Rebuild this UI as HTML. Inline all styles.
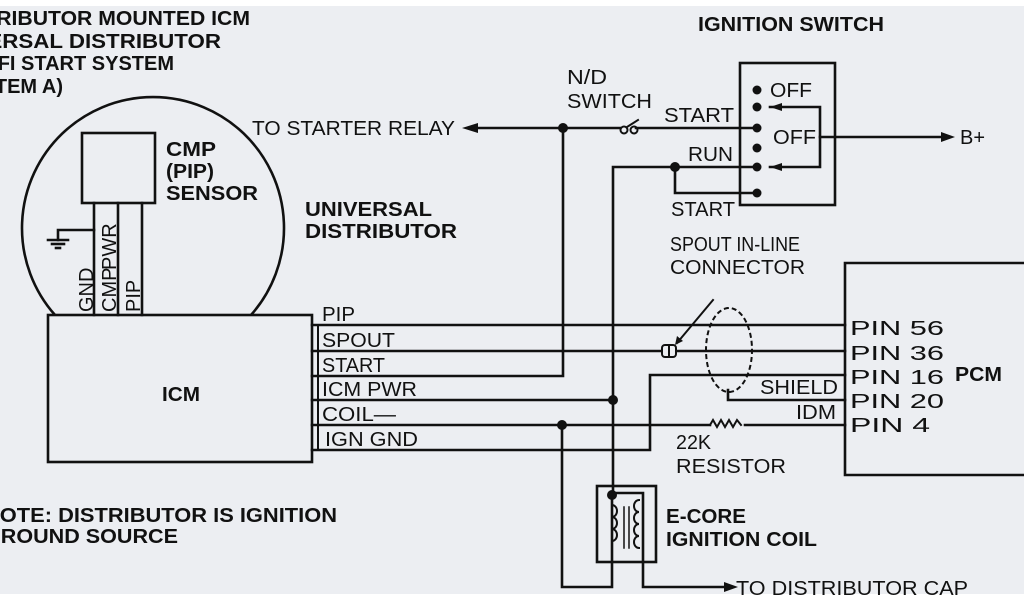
<!DOCTYPE html>
<html><head><style>
html,body{margin:0;padding:0;background:#fff}
svg{display:block}
text{font-family:"Liberation Sans",sans-serif;fill:#111}
.b{font-weight:bold;font-size:20px}
.n{font-size:20px}
</style></head><body>
<svg width="1024" height="600" viewBox="0 0 1024 600" xmlns="http://www.w3.org/2000/svg">
<rect x="0" y="6" width="1024" height="588" fill="#eceef2"/>
<g stroke="#111" stroke-width="2.6" fill="none" stroke-linecap="square">
<path d="M55 315 A131 131 0 1 1 251 315"/>
<rect x="48" y="315" width="264" height="147" fill="#eceef2"/>
<rect x="82" y="133" width="73" height="70" fill="#eceef2"/>
<line x1="94" y1="203" x2="94" y2="315"/>
<line x1="118" y1="203" x2="118" y2="315"/>
<line x1="142" y1="203" x2="142" y2="315"/>
<path d="M94 230 H58 V240"/>
<line x1="48" y1="240" x2="68" y2="240"/>
<line x1="52" y1="244" x2="64" y2="244"/>
<line x1="56" y1="248" x2="60" y2="248"/>
<line x1="312" y1="325" x2="845" y2="325"/>
<line x1="312" y1="351" x2="845" y2="351"/>
<path d="M312 376 H563 V128"/>
<line x1="312" y1="400" x2="613" y2="400"/>
<path d="M312 425 H710"/>
<path d="M745 425 H845"/>
<path d="M710 425 l3 -5 l4 7 l4 -7 l4 7 l4 -7 l4 7 l4 -7 l4 5" stroke-width="2"/>
<path d="M312 450 H650 V375 H845"/>
<line x1="318" y1="325" x2="318" y2="450" stroke-width="2"/>
<path d="M470 128 H620"/>
<path d="M636 128 H757"/>
<circle cx="624" cy="130" r="3.5" stroke-width="2"/>
<circle cx="634" cy="130" r="3.5" stroke-width="2"/>
<line x1="627" y1="127" x2="638" y2="120" stroke-width="2"/>
<path d="M613 493 V167 H757"/>
<path d="M675 167 V193 H757"/>
<rect x="740" y="63" width="95" height="142"/>
<path d="M770 107 H820 V167 H770"/>
<line x1="820" y1="137" x2="945" y2="137"/>
<rect x="597" y="486" width="59" height="76"/>
<path d="M562 425 V587 H612 V493"/>
<path d="M612 493 H643 V587 H730"/>
<path d="M612 505 a5 6 0 0 1 0 12 a5 6 0 0 1 0 12 a5 6 0 0 1 0 12" stroke-width="2"/>
<path d="M639 500 a5 6 0 0 0 0 12 a5 6 0 0 0 0 12 a5 6 0 0 0 0 12 a5 6 0 0 0 0 12" stroke-width="2"/>
<line x1="624" y1="507" x2="624" y2="548" stroke-width="1.5"/>
<line x1="629" y1="507" x2="629" y2="548" stroke-width="1.5"/>
<ellipse cx="729" cy="350" rx="23" ry="42" stroke-dasharray="3,5" stroke-width="2"/>
<path d="M728 390 V400 H845"/>
<line x1="713" y1="300" x2="677" y2="343" stroke-width="2"/>
<rect x="662" y="345" width="14" height="12" rx="3" stroke-width="2" fill="#eceef2"/>
<line x1="669" y1="345" x2="669" y2="357" stroke-width="2"/>
<path d="M1030 263 H845 V475 H1030"/>
</g>
<g fill="#111">
<circle cx="563" cy="128" r="5"/>
<circle cx="675" cy="167" r="5"/>
<circle cx="613" cy="400" r="5"/>
<circle cx="562" cy="425" r="5"/>
<circle cx="612" cy="495" r="5"/>
<circle cx="757" cy="90" r="4.5"/>
<circle cx="757" cy="107" r="4.5"/>
<circle cx="757" cy="128" r="4.5"/>
<circle cx="757" cy="148" r="4.5"/>
<circle cx="757" cy="167" r="4.5"/>
<circle cx="757" cy="193" r="4.5"/>
<path d="M462 128 l16 -5 v10 z"/>
<path d="M770 107 l12 -4 v8 z"/>
<path d="M770 167 l12 -4 v8 z"/>
<path d="M955 137 l-14 -5 v10 z"/>
<path d="M738 587 l-14 -5 v10 z"/>
<path d="M675 345 l2 -9 l6 5 z"/>
</g>
<text class="b" x="-52" y="25" textLength="302" lengthAdjust="spacingAndGlyphs">DISTRIBUTOR MOUNTED ICM</text>
<text class="b" x="-66" y="48" textLength="287" lengthAdjust="spacingAndGlyphs">UNIVERSAL DISTRIBUTOR</text>
<text class="b" x="174" y="70" text-anchor="end">TFI START SYSTEM</text>
<text class="b" x="63" y="93" text-anchor="end">(SYSTEM A)</text>
<text class="b" x="166" y="156" textLength="50" lengthAdjust="spacingAndGlyphs">CMP</text>
<text class="b" x="166" y="178" textLength="48" lengthAdjust="spacingAndGlyphs">(PIP)</text>
<text class="b" x="166" y="200" textLength="92" lengthAdjust="spacingAndGlyphs">SENSOR</text>
<text class="b" x="305" y="216" textLength="127" lengthAdjust="spacingAndGlyphs">UNIVERSAL</text>
<text class="b" x="305" y="238" textLength="152" lengthAdjust="spacingAndGlyphs">DISTRIBUTOR</text>
<text class="b" x="162" y="401" textLength="38" lengthAdjust="spacingAndGlyphs">ICM</text>
<text class="n" transform="translate(93,312) rotate(-90)">GND</text>
<text class="n" transform="translate(116,312) rotate(-90)">CMP</text>
<text class="n" transform="translate(116,270) rotate(-90)">PWR</text>
<text class="n" transform="translate(140,312) rotate(-90)">PIP</text>
<text class="n" x="322" y="321" textLength="33" lengthAdjust="spacingAndGlyphs">PIP</text>
<text class="n" x="322" y="347" textLength="73" lengthAdjust="spacingAndGlyphs">SPOUT</text>
<text class="n" x="322" y="372" textLength="63" lengthAdjust="spacingAndGlyphs">START</text>
<text class="n" x="322" y="396" textLength="95" lengthAdjust="spacingAndGlyphs">ICM PWR</text>
<text class="n" x="322" y="421" textLength="74" lengthAdjust="spacingAndGlyphs">COIL—</text>
<text class="n" x="325" y="446" textLength="93" lengthAdjust="spacingAndGlyphs">IGN GND</text>
<text class="b" x="-16" y="522" textLength="353" lengthAdjust="spacingAndGlyphs">NOTE: DISTRIBUTOR IS IGNITION</text>
<text class="b" x="-16" y="543" textLength="194" lengthAdjust="spacingAndGlyphs">GROUND SOURCE</text>
<text class="n" x="252" y="135" textLength="203" lengthAdjust="spacingAndGlyphs">TO STARTER RELAY</text>
<text class="n" x="567" y="84" textLength="40" lengthAdjust="spacingAndGlyphs">N/D</text>
<text class="n" x="567" y="108" textLength="85" lengthAdjust="spacingAndGlyphs">SWITCH</text>
<text class="n" x="664" y="122" textLength="70" lengthAdjust="spacingAndGlyphs">START</text>
<text class="n" x="688" y="161" textLength="45" lengthAdjust="spacingAndGlyphs">RUN</text>
<text class="n" x="671" y="216" textLength="64" lengthAdjust="spacingAndGlyphs">START</text>
<text class="b" x="698" y="31" textLength="186" lengthAdjust="spacingAndGlyphs">IGNITION SWITCH</text>
<text class="n" x="770" y="97" textLength="42" lengthAdjust="spacingAndGlyphs">OFF</text>
<text class="n" x="773" y="144" textLength="43" lengthAdjust="spacingAndGlyphs">OFF</text>
<text class="n" x="960" y="144" textLength="25" lengthAdjust="spacingAndGlyphs">B+</text>
<text class="n" x="670" y="251" textLength="130" lengthAdjust="spacingAndGlyphs">SPOUT IN-LINE</text>
<text class="n" x="670" y="274" textLength="135" lengthAdjust="spacingAndGlyphs">CONNECTOR</text>
<text class="n" x="760" y="394" textLength="78" lengthAdjust="spacingAndGlyphs">SHIELD</text>
<text class="n" x="796" y="419" textLength="40" lengthAdjust="spacingAndGlyphs">IDM</text>
<text class="n" x="676" y="449" textLength="35" lengthAdjust="spacingAndGlyphs">22K</text>
<text class="n" x="676" y="473" textLength="110" lengthAdjust="spacingAndGlyphs">RESISTOR</text>
<text class="n" x="850" y="335" textLength="94" lengthAdjust="spacingAndGlyphs">PIN 56</text>
<text class="n" x="850" y="360" textLength="94" lengthAdjust="spacingAndGlyphs">PIN 36</text>
<text class="n" x="850" y="384" textLength="94" lengthAdjust="spacingAndGlyphs">PIN 16</text>
<text class="n" x="850" y="408" textLength="94" lengthAdjust="spacingAndGlyphs">PIN 20</text>
<text class="n" x="850" y="432" textLength="80" lengthAdjust="spacingAndGlyphs">PIN 4</text>
<text class="b" x="955" y="381" textLength="47" lengthAdjust="spacingAndGlyphs">PCM</text>
<text class="b" x="666" y="523" textLength="80" lengthAdjust="spacingAndGlyphs">E-CORE</text>
<text class="b" x="666" y="546" textLength="151" lengthAdjust="spacingAndGlyphs">IGNITION COIL</text>
<text class="n" x="736" y="595" textLength="232" lengthAdjust="spacingAndGlyphs">TO DISTRIBUTOR CAP</text>
</svg>
</body></html>
